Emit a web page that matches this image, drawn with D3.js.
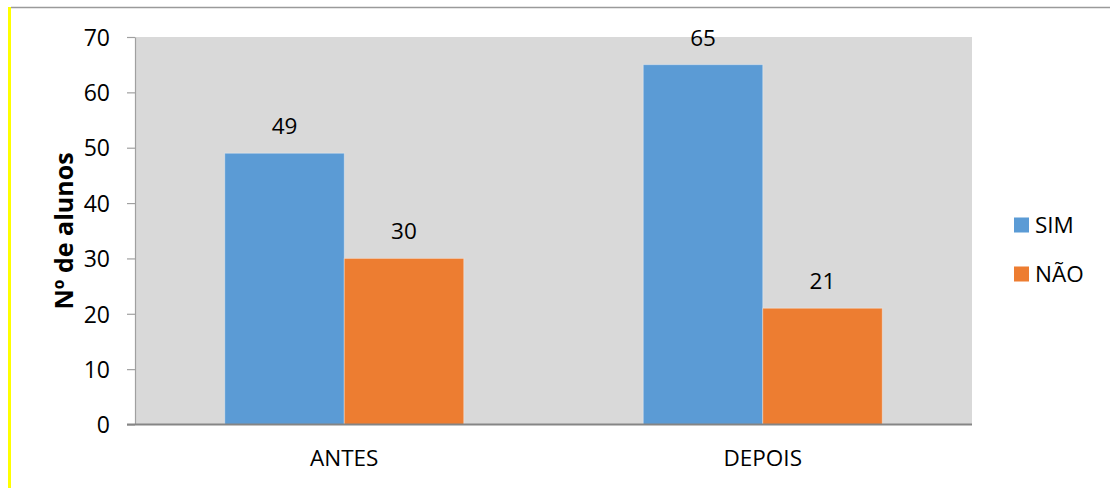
<!DOCTYPE html>
<html>
<head>
<meta charset="utf-8">
<script src="https://cdn.jsdelivr.net/npm/d3@7"></script>
<style>
  html, body { margin: 0; padding: 0; background: #fff; }
  svg { display: block; font-family: "Open Sans", sans-serif; }
</style>
</head>
<body>
<svg id="chart" width="1110" height="488"></svg>
<script>
const categories = ["ANTES", "DEPOIS"];
const seriesNames = ["SIM", "NÃO"];
const simValues = [49, 65];
const naoValues = [30, 21];
const yTicks = [0, 10, 20, 30, 40, 50, 60, 70];
const yTitle = "Nº de alunos";
const colors = ["#5b9bd5", "#ed7d31"];

const seriesValues = [simValues, naoValues];
const svg = d3.select("#chart");

// frame decorations
svg.append("line").attr("x1", 11).attr("x2", 1110).attr("y1", 7.5).attr("y2", 7.5)
  .attr("stroke", "#9a9a9a").attr("stroke-width", 1.5);
svg.append("rect").attr("x", 8).attr("y", 7).attr("width", 3).attr("height", 481).attr("fill", "#ffff00");

const plot = { left: 135, right: 972, top: 37, bottom: 424.5 };

svg.append("rect").attr("x", plot.left).attr("y", plot.top)
  .attr("width", plot.right - plot.left).attr("height", plot.bottom - plot.top)
  .attr("fill", "#d9d9d9");

const y = d3.scaleLinear().domain([0, 70]).range([plot.bottom, plot.top]);
const x0 = d3.scaleBand().domain(categories).range([plot.left, plot.right])
  .paddingInner(0.429).paddingOuter(0.2145);
const x1 = d3.scaleBand().domain(seriesNames).range([0, x0.bandwidth()]);

// bars
seriesNames.forEach((s, si) => {
  const g = svg.append("g");
  g.selectAll("rect").data(categories).join("rect")
    .attr("x", c => x0(c) + x1(s))
    .attr("y", (c, i) => y(seriesValues[si][i]))
    .attr("width", x1.bandwidth())
    .attr("height", (c, i) => y(0) - y(seriesValues[si][i]))
    .attr("fill", colors[si])
    .attr("stroke", "rgba(255,255,255,0.35)").attr("stroke-width", 1);
  g.selectAll("text").data(categories).join("text")
    .attr("x", c => x0(c) + x1(s) + x1.bandwidth() / 2)
    .attr("y", (c, i) => y(seriesValues[si][i]) - 19)
    .attr("text-anchor", "middle")
    .attr("font-size", 22.5).attr("fill", "#000")
    .text((c, i) => seriesValues[si][i]);
});

// y axis
const yAxis = svg.append("g").attr("transform", `translate(${plot.left},0)`)
  .call(d3.axisLeft(y).tickValues(yTicks).tickSize(8).tickPadding(17).tickSizeOuter(0));
yAxis.select(".domain").attr("stroke", "#a0a0a0").attr("stroke-width", 1.2);
yAxis.selectAll(".tick line").attr("stroke", "#a0a0a0").attr("stroke-width", 1.2);
yAxis.selectAll(".tick text").attr("font-size", 23).attr("font-family", "Open Sans")
  .attr("fill", "#000").attr("dy", "0.36em");

// x axis
const xAxis = svg.append("g").attr("transform", `translate(0,${plot.bottom})`)
  .call(d3.axisBottom(x0).tickSize(0).tickSizeOuter(0));
xAxis.select(".domain").remove();
xAxis.append("line").attr("x1", plot.left - 8).attr("x2", plot.right)
  .attr("y1", 0).attr("y2", 0).attr("stroke", "#858585").attr("stroke-width", 2);
xAxis.selectAll(".tick text").attr("font-size", 22.5).attr("font-family", "Open Sans")
  .attr("fill", "#000").attr("y", 466 - plot.bottom).attr("dy", 0);

// y title
svg.append("text").attr("transform", "translate(73,231) rotate(-90)")
  .attr("text-anchor", "middle").attr("font-size", 25).attr("font-weight", 700)
  .attr("fill", "#000").text(yTitle);

// legend
const legend = svg.append("g");
seriesNames.forEach((s, i) => {
  const cy = 225 + i * 49;
  legend.append("rect").attr("x", 1014).attr("y", cy - 7.5).attr("width", 15).attr("height", 15)
    .attr("fill", colors[i]);
  legend.append("text").attr("x", 1035).attr("y", cy).attr("dy", "0.36em")
    .attr("font-size", 22.5).attr("fill", "#000").text(s);
});
</script>
</body>
</html>
